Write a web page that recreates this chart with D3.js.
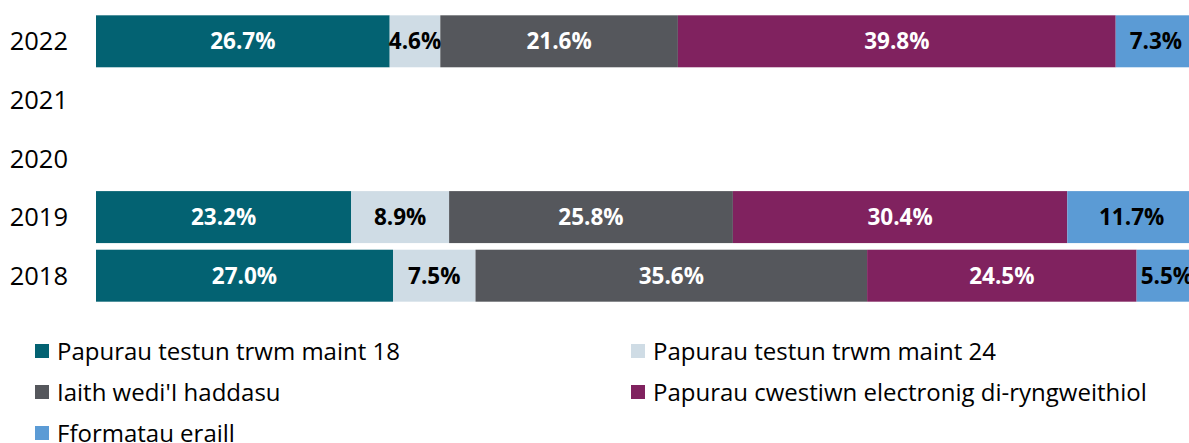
<!DOCTYPE html>
<html>
<head>
<meta charset="utf-8">
<script src="https://cdn.jsdelivr.net/npm/d3@7"></script>
<style>
  body { margin: 0; background: #fff; overflow: hidden; }
  text { font-family: "Open Sans", "Noto Sans", sans-serif; }
</style>
</head>
<body>
<div id="chart"></div>
<script>
// Data
const years = ["2022", "2021", "2020", "2019", "2018"];
const series = [
    "Papurau testun trwm maint 18",
    "Papurau testun trwm maint 24",
    "Iaith wedi'I haddasu",
    "Papurau cwestiwn electronig di-ryngweithiol",
    "Fformatau eraill"
];
const colors = ["#036272", "#cfdce5", "#55575c", "#80225f", "#5b9bd5"];
const labelColors = ["#fff", "#000", "#fff", "#fff", "#000"];
// share per year, one array per series (null = no data)
const large18 = [26.7, null, null, 23.2, 27.0];
const large24 = [4.6, null, null, 8.9, 7.5];
const modified = [21.6, null, null, 25.8, 35.6];
const electronic = [39.8, null, null, 30.4, 24.5];
const other = [7.3, null, null, 11.7, 5.5];

const values = [large18, large24, modified, electronic, other];

const W = 1189, H = 443;

let svg = d3.select("#chart")
    .append("svg")
    .attr("width", W)
    .attr("height", H);

let x = d3.scaleLinear()
    .domain([0, 100])
    .range([96, 1196]);

let y = d3.scaleBand()
    .domain(years)
    .range([12, 305])
    .paddingInner(0.113)
    .paddingOuter(0.0565);

// build rows of stacked segments
let rows = years.map((yr, i) => {
    let acc = 0;
    let segs = [];
    values.forEach((arr, k) => {
        let v = arr[i];
        if (v == null) return;
        segs.push({ year: yr, k: k, x0: acc, x1: acc + v, v: v });
        acc += v;
    });
    return segs;
});

let g = svg.append("g");

g.selectAll("g.row")
    .data(rows)
    .join("g")
        .attr("class", "row")
    .selectAll("rect")
    .data(d => d)
    .join("rect")
        .attr("x", d => x(d.x0))
        .attr("y", d => y(d.year))
        .attr("width", d => x(d.x1) - x(d.x0))
        .attr("height", y.bandwidth())
        .attr("fill", d => colors[d.k]);

g.selectAll("text.val")
    .data(rows.flat())
    .join("text")
        .attr("class", "val")
        .attr("x", d => (x(d.x0) + x(d.x1)) / 2)
        .attr("y", d => y(d.year) + y.bandwidth() / 2)
        .attr("dy", "0.36em")
        .attr("text-anchor", "middle")
        .attr("font-size", 22.5)
        .attr("font-weight", "bold")
        .attr("fill", d => labelColors[d.k])
        .text(d => d.v.toFixed(1) + "%");

// year labels
svg.append("g")
    .selectAll("text")
    .data(years)
    .join("text")
        .attr("x", 68)
        .attr("y", d => y(d) + y.bandwidth() / 2)
        .attr("dy", "0.36em")
        .attr("text-anchor", "end")
        .attr("font-size", 25.5)
        .attr("fill", "#000")
        .text(d => d);

// legend, two columns
let legend = svg.append("g")
    .selectAll("g")
    .data(series)
    .join("g")
        .attr("transform", (d, i) => `translate(${i % 2 == 0 ? 35 : 631}, ${351 + Math.floor(i / 2) * 41})`);

legend.append("rect")
    .attr("x", 0)
    .attr("y", -7)
    .attr("width", 14)
    .attr("height", 14)
    .attr("fill", (d, i) => colors[i]);

legend.append("text")
    .attr("x", 22)
    .attr("y", 0)
    .attr("dy", "0.36em")
    .attr("font-size", 24)
    .attr("fill", "#000")
    .text(d => d);
</script>
</body>
</html>
